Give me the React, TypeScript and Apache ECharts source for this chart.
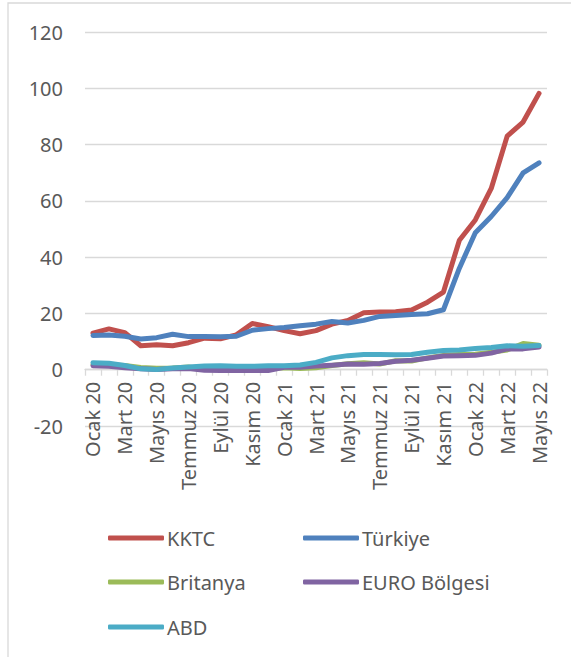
import React, { useEffect, useRef } from "react";
import * as echarts from "echarts";

const months = ["Ocak", "Şubat", "Mart", "Nisan", "Mayıs", "Haziran", "Temmuz", "Ağustos", "Eylül", "Ekim", "Kasım", "Aralık"];
const categories: string[] = [];
for (const y of ["20", "21", "22"]) {
  for (const m of months) {
    categories.push(`${m} ${y}`);
  }
}
const cats = categories.slice(0, 29);

const yTicks = { min: -20, max: 120, interval: 20 };

const kktc = [13.0, 14.5, 13.2, 8.5, 8.9, 8.5, 9.6, 11.2, 11.0, 12.4, 16.4, 15.3, 13.9, 12.8, 13.9, 16.2, 17.5, 20.2, 20.5, 20.6, 21.2, 24.0, 27.6, 46.0, 53.2, 64.4, 83.0, 88.0, 98.2];
const turkiye = [12.15, 12.37, 11.86, 10.94, 11.39, 12.62, 11.76, 11.77, 11.75, 11.89, 14.03, 14.6, 14.97, 15.61, 16.19, 17.14, 16.59, 17.53, 18.95, 19.25, 19.58, 19.89, 21.31, 36.08, 48.69, 54.44, 61.14, 69.97, 73.5];
const britanya = [1.8, 1.7, 1.5, 0.8, 0.5, 0.6, 1.0, 0.2, 0.5, 0.7, 0.3, 0.6, 0.7, 0.4, 0.7, 1.5, 2.1, 2.5, 2.0, 3.2, 3.1, 4.2, 5.1, 5.4, 5.5, 6.2, 7.0, 9.3, 8.7];
const euro = [1.4, 1.2, 0.7, 0.3, 0.1, 0.3, 0.4, -0.2, -0.3, -0.3, -0.3, -0.3, 0.9, 0.9, 1.3, 1.6, 2.0, 1.9, 2.2, 3.0, 3.4, 4.1, 4.9, 5.0, 5.1, 5.9, 7.4, 7.4, 8.1];
const abd = [2.5, 2.3, 1.5, 0.3, 0.1, 0.6, 1.0, 1.3, 1.4, 1.2, 1.2, 1.4, 1.4, 1.7, 2.6, 4.2, 5.0, 5.4, 5.4, 5.3, 5.4, 6.2, 6.8, 7.0, 7.5, 7.9, 8.5, 8.3, 8.6];

const seriesNames = ["KKTC", "Türkiye", "Britanya", "EURO Bölgesi", "ABD"];
const seriesData = [kktc, turkiye, britanya, euro, abd];
const colors = ["#C0504D", "#4F81BD", "#9BBB59", "#8064A2", "#4BACC6"];

const FONT = "'Noto Sans', sans-serif";
const TEXT_COLOR = "#595959";

export default function App() {
  const ref = useRef<HTMLDivElement>(null);
  useEffect(() => {
    if (!ref.current) return;
    const chart = echarts.init(ref.current, undefined, { renderer: "svg" });
    const legendPos = [
      { left: 103, top: 523 },
      { left: 298, top: 523 },
      { left: 103, top: 567 },
      { left: 298, top: 567 },
      { left: 103, top: 612 },
    ];
    const gridTop = 32;
    const gridBottom = 231;
    const plotH = 657 - gridTop - gridBottom;
    const zeroOffset = (plotH * (0 - yTicks.min)) / (yTicks.max - yTicks.min);
    chart.setOption({
      animation: false,
      backgroundColor: "#ffffff",
      color: colors,
      grid: { left: 85, right: 24, top: gridTop, bottom: gridBottom, containLabel: false },
      legend: seriesNames.map((n, i) => ({
        data: [n],
        left: legendPos[i].left,
        top: legendPos[i].top,
        orient: "horizontal",
        icon: "roundRect",
        itemWidth: 56,
        itemHeight: 5,
        selectedMode: false,
        textStyle: { fontFamily: FONT, fontSize: 20, color: TEXT_COLOR, padding: [0, 0, 0, -2] },
      })),
      graphic: [
        {
          type: "rect",
          shape: { x: 8, y: 3, width: 600, height: 700 },
          style: { fill: "none", stroke: "#d9d9d9", lineWidth: 1.3 },
          silent: true,
          z: -10,
        },
      ],
      xAxis: {
        type: "category",
        data: cats,
        boundaryGap: true,
        position: "bottom",
        offset: -zeroOffset,
        axisLine: { onZero: false, lineStyle: { color: "#d9d9d9", width: 1.3 } },
        axisTick: { show: true, interval: 0, length: 6, lineStyle: { color: "#d9d9d9", width: 1.3 } },
        axisLabel: {
          interval: 1,
          rotate: 90,
          margin: 12,
          fontFamily: FONT,
          fontSize: 20,
          color: TEXT_COLOR,
        },
        splitLine: { show: false },
      },
      yAxis: {
        type: "value",
        min: yTicks.min,
        max: yTicks.max,
        interval: yTicks.interval,
        axisLine: { show: false },
        axisTick: { show: false },
        axisLabel: { margin: 22, fontFamily: FONT, fontSize: 20, color: TEXT_COLOR },
        splitLine: { show: true, lineStyle: { color: "#d9d9d9", width: 1.3 } },
      },
      series: seriesNames.map((n, i) => ({
        name: n,
        type: "line",
        data: seriesData[i],
        showSymbol: false,
        symbol: "none",
        smooth: false,
        lineStyle: { width: 5, color: colors[i], cap: "round", join: "round" },
        itemStyle: { color: colors[i] },
        z: 2 + i,
      })),
    });
    return () => chart.dispose();
  }, []);
  return (
    <div
      ref={ref}
      style={{ position: "fixed", left: 0, top: 0, width: 571, height: 657 }}
    />
  );
}
